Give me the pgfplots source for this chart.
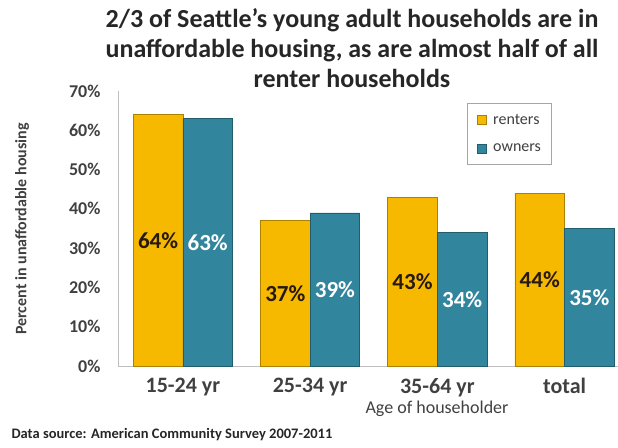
\documentclass[border=0pt]{standalone}
\usepackage{pgfplots}
\pgfplotsset{compat=1.18}
\usepackage{fontspec}
\setmainfont{Carlito}
\definecolor{renter}{HTML}{F7B800}
\definecolor{owner}{HTML}{31859C}
\definecolor{tick}{HTML}{404040}
\begin{document}
\begin{tikzpicture}[x=1pt,y=1pt]
\path[use as bounding box] (-118,-81) rectangle (500,366);
\begin{axis}[
  at={(0,0)}, anchor=south west,
  scale only axis, width=500pt, height=275pt,
  xmin=-0.51, xmax=3.42, ymin=0, ymax=70,
  axis lines=left, axis line style={draw=gray!50, -},
  ytick={0,10,...,70},
  yticklabel={\pgfmathprintnumber{\tick}\%},
  /pgf/number format/assume math mode=true,
  yticklabel style={font=\fontsize{18}{18}\selectfont\bfseries, text=tick, xshift=-14pt},
  xtick={0,1,2,3},
  xticklabels={15-24 yr,25-34 yr,35-64 yr,total},
  xticklabel style={font=\fontsize{22}{22}\selectfont\bfseries, text=tick, yshift=-9pt},
  major tick length=0pt,
  clip=true,
  legend style={at={(rel axis cs:0.698,0.956)}, anchor=north west, draw=gray!70, font=\fontsize{16}{16}\selectfont, text=tick, row sep=14pt, inner xsep=8pt, inner ysep=9pt, cells={anchor=west}},
  legend image code/.code={\draw[#1] (2pt,-4.5pt) rectangle (11pt,4.5pt); \path[draw=none,fill=none] (0pt,0pt) -- (16pt,0pt);},
]
\addplot[ybar, bar width=0.39, bar shift=-0.195, fill=renter, draw=renter!70!black, line width=0.5pt]
  coordinates {(0,64) (1,37) (2,43) (3,44)};
\addlegendentry{renters}
\addplot[ybar, bar width=0.39, bar shift=0.195, fill=owner, draw=owner!70!black, line width=0.5pt]
  coordinates {(0,63) (1,39) (2,34) (3,35)};
\addlegendentry{owners}
\addplot[draw=none, forget plot, nodes near coords, point meta=explicit symbolic,
  every node near coord/.append style={anchor=center, font=\fontsize{23}{23}\selectfont\bfseries, text=black!80!brown}]
  coordinates {(-0.195,32)[64\%] (0.805,18.5)[37\%] (1.805,21.5)[43\%] (2.805,22)[44\%]};
\addplot[draw=none, forget plot, nodes near coords, point meta=explicit symbolic,
  every node near coord/.append style={anchor=center, font=\fontsize{23}{23}\selectfont\bfseries, text=white}]
  coordinates {(0.195,31.5)[63\%] (1.195,19.5)[39\%] (2.195,17)[34\%] (3.195,17.5)[35\%]};
\end{axis}
\node[align=center, font=\fontsize{26}{30}\selectfont\bfseries, text=black!85] at (234,318)
  {2/3 of Seattle's young adult households are in\\unaffordable housing, as are almost half of all\\renter households};
\node[rotate=90, font=\fontsize{16}{16}\selectfont\bfseries, text=tick] at (-96,137) {Percent in unaffordable housing};
\node[font=\fontsize{18}{18}\selectfont, text=tick] at (319,-43) {Age of householder};
\node[font=\fontsize{14.5}{14.5}\selectfont\bfseries, text=black!85, anchor=west] at (-110,-69) {Data source: American Community Survey 2007-2011};
\end{tikzpicture}
\end{document}
